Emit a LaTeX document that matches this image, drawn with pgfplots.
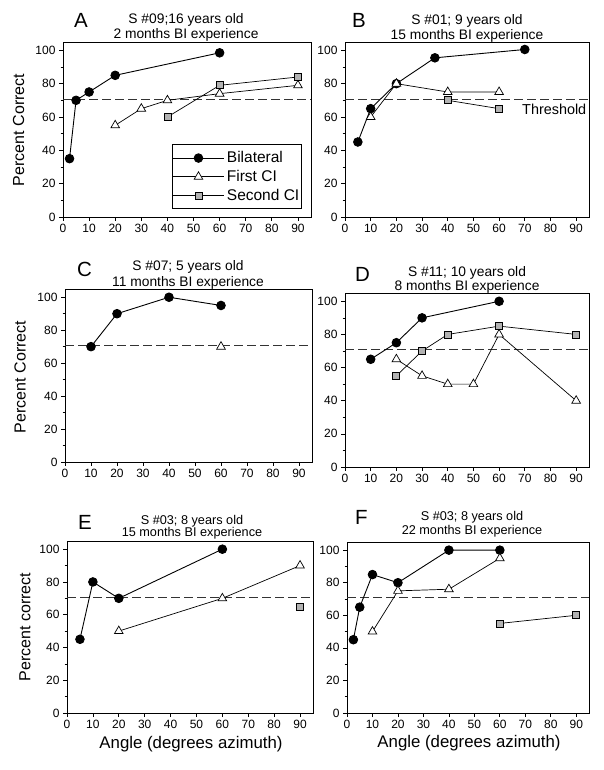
\documentclass[border=0pt]{standalone}
\usepackage{fontspec}
\setmainfont{Liberation Sans}
\usepackage{pgfplots}
\pgfplotsset{compat=1.18}
\newcommand\fs[1]{\fontsize{#1}{#1}\selectfont}
\pgfplotsset{
  panel/.style={
    scale only axis, anchor=south west,
    xmin=0, xmax=95, ymin=0, ymax=105,
    xtick={0,10,...,90}, ytick={0,20,...,100},
    minor y tick num=1,
    tick align=outside, xtick pos=bottom, ytick pos=left,
    major tick length=4pt, minor tick length=2.5pt,
    axis line style={line width=0.8pt},
    tick style={black, line width=0.7pt},
    ticklabel style={font=\fs{12}},
    /pgf/number format/assume math mode=true,
    clip=false,
  },
  bil/.style={black, line width=0.9pt, mark=*, mark size=4.3pt, mark options={solid, fill=black}},
  fci/.style={black, line width=0.7pt, mark=triangle*, mark size=5pt, mark options={solid, fill=white, line width=0.7pt}},
  sci/.style={black, line width=0.7pt, mark=square*, mark size=3.5pt, mark options={solid, fill=gray!60, line width=0.8pt}},
  thr/.style={black!80, line width=0.8pt, dash pattern=on 9pt off 4pt, forget plot},
}
\begin{document}
\begin{tikzpicture}
\useasboundingbox (0pt,0pt) rectangle (604pt,770pt);

% ---------- A ----------
\begin{axis}[panel, at={(63pt,553pt)}, width=248pt, height=175pt,
  legend style={at={(rel axis cs:0.9625,0.044)}, anchor=south east, draw=black,
    line width=0.8pt, inner xsep=0pt, inner ysep=4pt, font=\fs{15.5},
    nodes={inner ysep=3pt}, legend cell align=left},
  legend image code/.code={\draw[mark repeat=2,mark phase=2,#1] plot coordinates {(0pt,0pt) (26pt,0pt) (52pt,0pt)};}]
\addplot[thr] coordinates {(0,70.7) (95,70.7)};
\addplot[bil] coordinates {(2.5,35) (5,70) (10,75) (20,85) (60,98.5)};
\addplot[fci] coordinates {(20,55) (30,65) (40,70) (60,74) (90,79)};
\addplot[sci] coordinates {(40,60) (60,79) (90,84)};
\legend{Bilateral, First CI, Second CI}
\end{axis}

% ---------- B ----------
\begin{axis}[panel, at={(345pt,553pt)}, width=244pt, height=175pt]
\addplot[thr] coordinates {(0,70.7) (95,70.7)};
\addplot[bil] coordinates {(5,45) (10,65) (20,80) (35,95.5) (70,100.5)};
\addplot[fci] coordinates {(10,60) (20,80) (40,75) (60,75)};
\addplot[sci] coordinates {(40,70) (60,65)};
\end{axis}

% ---------- C ----------
\begin{axis}[panel, at={(65pt,308pt)}, width=247pt, height=173pt]
\addplot[thr] coordinates {(0,70.7) (95,70.7)};
\addplot[bil] coordinates {(10,70) (20,90) (40,100) (60,95)};
\addplot[fci] coordinates {(60,70)};
\end{axis}

% ---------- D ----------
\begin{axis}[panel, at={(345pt,303pt)}, width=244pt, height=174pt]
\addplot[thr] coordinates {(0,71) (95,71)};
\addplot[bil] coordinates {(10,65) (20,75) (30,90) (60,100)};
\addplot[fci] coordinates {(20,65) (30,55) (40,50) (50,50) (60,80) (90,40)};
\addplot[sci] coordinates {(20,55) (30,70) (40,80) (60,85) (90,80)};
\end{axis}

% ---------- E ----------
\begin{axis}[panel, at={(67pt,57pt)}, width=246pt, height=172pt]
\addplot[thr] coordinates {(0,70.7) (95,70.7)};
\addplot[bil] coordinates {(5,45) (10,80) (20,70) (60,100)};
\addplot[fci] coordinates {(20,50) (60,70) (90,90)};
\addplot[sci] coordinates {(90,65)};
\end{axis}

% ---------- F ----------
\begin{axis}[panel, at={(347pt,57pt)}, width=242pt, height=171pt]
\addplot[thr] coordinates {(0,70.7) (95,70.7)};
\addplot[bil] coordinates {(2.5,45) (5,65) (10,85) (20,80) (40,100) (60,100)};
\addplot[fci] coordinates {(10,50) (20,75) (40,76) (60,95)};
\addplot[sci] coordinates {(60,55) (90,60)};
\end{axis}

% ---------- titles ----------
\begin{scope}[every node/.style={anchor=base, inner sep=0pt}]
\node[font=\fs{13.8}] at (186pt,746pt) {S \#09;16 years old};
\node[font=\fs{13.8}] at (186pt,731pt) {2 months BI experience};
\node[font=\fs{13.8}] at (467pt,745pt) {S \#01; 9 years old};
\node[font=\fs{13.8}] at (467pt,730pt) {15 months BI experience};
\node[font=\fs{13.8}] at (188pt,499pt) {S \#07; 5 years old};
\node[font=\fs{13.8}] at (188pt,483pt) {11 months BI experience};
\node[font=\fs{13.8}] at (467pt,493pt) {S \#11; 10 years old};
\node[font=\fs{13.8}] at (467pt,479pt) {8 months BI experience};
\node[font=\fs{12.7}] at (192pt,245pt) {S \#03; 8 years old};
\node[font=\fs{12.7}] at (192pt,233pt) {15 months BI experience};
\node[font=\fs{12.7}] at (472pt,249pt) {S \#03; 8 years old};
\node[font=\fs{12.7}] at (472pt,235pt) {22 months BI experience};
\end{scope}
\begin{scope}[every node/.style={anchor=base west, inner sep=0pt, font=\fs{20.5}}]
\node at (74pt,742pt) {A};
\node at (352pt,742pt) {B};
\node at (77pt,493pt) {C};
\node at (355pt,488pt) {D};
\node at (78pt,240pt) {E};
\node at (355pt,245pt) {F};
\end{scope}
\node[anchor=base west, inner sep=0pt, font=\fs{14.4}] at (522pt,655pt) {Threshold};
% ---------- axis labels ----------
\node[rotate=90, font=\fs{16}, inner sep=0pt] at (18.5pt,640pt) {Percent Correct};
\node[rotate=90, font=\fs{16}, inner sep=0pt] at (20pt,393pt) {Percent Correct};
\node[rotate=90, font=\fs{16}, inner sep=0pt] at (25pt,143pt) {Percent correct};
\node[anchor=base, font=\fs{16.8}, inner sep=0pt] at (191pt,21pt) {Angle (degrees azimuth)};
\node[anchor=base, font=\fs{16.8}, inner sep=0pt] at (469pt,22pt) {Angle (degrees azimuth)};
\end{tikzpicture}
\end{document}
